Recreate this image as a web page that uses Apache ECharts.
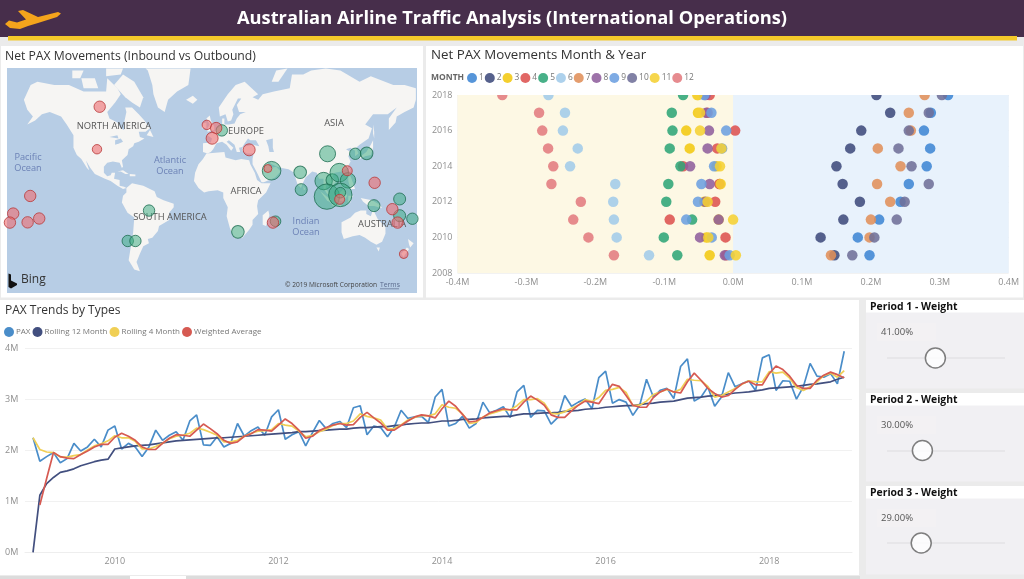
<!DOCTYPE html>
<html><head><meta charset="utf-8">
<style>html,body{margin:0;padding:0;background:#ebebeb}#c{width:1024px;height:579px}</style>
<script src="https://cdn.jsdelivr.net/npm/echarts@6/dist/echarts.min.js"></script>
</head><body><div id="c"></div>
<script>
// ---------- DATA ----------
const monthNames = ['1','2','3','4','5','6','7','8','9','10','11','12'];
const years = [2009,2010,2011,2012,2013,2014,2015,2016,2017,2018];
// net PAX (millions), months 1..12
const net2009 = [.198,.147,-.034,-.010,-.081,-.122,.142,-.012,-.005,.173,.004,-.173];
const net2010 = [.181,.127,-.039,-.011,-.1006,-.169,.198,-.048,-.031,.205,-.036,-.210];
const net2011 = [.212,.160,-.021,-.092,-.0595,-.173,.200,-.021,-.068,.2375,0,-.232];
const net2012 = [.243,.184,-.042,-.026,-.097,-.174,.228,-.040,-.051,.249,-.037,-.221];
const net2013 = [.255,.159,-.019,-.020,-.094,-.171,.209,-.034,-.046,.284,-.018,-.2637];
const net2014 = [.281,.150,-.024,-.0726,-.0764,-.2366,.243,-.0624,-.0276,.259,-.019,-.261];
const net2015 = [.286,.170,-.063,-.023,-.092,-.2255,.210,-.037,-.016,.240,-.017,-.2685];
const net2016 = [.277,.186,-.068,.003,-.088,-.247,.258,-.035,-.010,.255,-.048,-.277];
const net2017 = [.287,.228,-.051,-.037,-.089,-.244,.255,-.039,-.0315,.284,-.048,-.2816];
const net2018 = [.312,.208,-.051,-.034,-.0726,-.268,.278,-.040,-.042,.303,-.052,-.335];
const netByYear = [net2009,net2010,net2011,net2012,net2013,net2014,net2015,net2016,net2017,net2018];

// monthly series Jan 2009 .. Dec 2018 (millions)
const pax = [
2.25,1.79,1.88,1.96,1.76,1.84,2.14,1.99,2.07,2.22,2.07,2.40,
2.48,2.03,2.14,2.07,1.88,2.07,2.40,2.20,2.30,2.37,2.20,2.58,
2.70,2.11,2.10,2.27,2.07,2.14,2.53,2.28,2.39,2.46,2.30,2.66,
2.80,2.22,2.31,2.37,2.09,2.35,2.59,2.43,2.53,2.57,2.45,2.84,
2.88,2.31,2.48,2.45,2.27,2.46,2.79,2.63,2.66,2.67,2.55,3.05,
3.20,2.48,2.53,2.67,2.44,2.53,2.95,2.74,2.79,2.86,2.65,3.15,
3.28,2.65,2.79,2.78,2.52,2.65,3.08,2.87,2.95,3.01,2.82,3.43,
3.56,2.93,3.00,2.95,2.69,2.89,3.40,3.05,3.18,3.22,3.02,3.65,
3.80,2.97,3.05,3.25,2.87,3.05,3.53,3.25,3.31,3.37,3.18,3.82,
3.88,3.18,3.37,3.36,3.01,3.25,3.71,3.46,3.44,3.51,3.31,3.95];
const rolling12 = [
0,1.12,1.35,1.47,1.57,1.60,1.64,1.70,1.74,1.78,1.81,1.83,
2.03,2.05,2.07,2.09,2.10,2.11,2.13,2.15,2.17,2.19,2.20,2.21,
2.22,2.23,2.24,2.25,2.25,2.26,2.27,2.28,2.29,2.30,2.31,2.32,
2.33,2.34,2.35,2.37,2.37,2.38,2.39,2.40,2.41,2.42,2.42,2.44,
2.45,2.45,2.46,2.47,2.47,2.49,2.50,2.52,2.53,2.54,2.54,2.56,
2.58,2.58,2.59,2.61,2.61,2.62,2.64,2.65,2.66,2.67,2.67,2.70,
2.72,2.72,2.73,2.74,2.74,2.75,2.77,2.78,2.79,2.81,2.82,2.83,
2.85,2.86,2.87,2.88,2.88,2.90,2.92,2.93,2.95,2.96,2.97,3.00,
3.03,3.04,3.05,3.07,3.08,3.09,3.11,3.13,3.14,3.15,3.17,3.19,
3.22,3.23,3.24,3.25,3.26,3.28,3.30,3.31,3.33,3.35,3.40,3.44];
const rolling4 = [
2.25,2.02,1.97,1.96,1.87,1.87,1.90,1.92,2.01,2.09,2.13,2.19,
2.29,2.25,2.25,2.18,2.03,2.03,2.08,2.14,2.23,2.28,2.30,2.34,
2.44,2.41,2.36,2.30,2.17,2.17,2.20,2.28,2.34,2.38,2.39,2.41,
2.53,2.50,2.48,2.38,2.27,2.30,2.37,2.42,2.49,2.53,2.53,2.58,
2.72,2.67,2.64,2.60,2.42,2.43,2.50,2.60,2.65,2.69,2.68,2.72,
2.90,2.85,2.83,2.72,2.53,2.55,2.66,2.72,2.76,2.80,2.80,2.88,
3.00,3.00,3.02,2.93,2.73,2.72,2.76,2.83,2.89,3.00,2.96,3.04,
3.18,3.20,3.24,3.14,2.88,2.89,2.97,3.10,3.15,3.20,3.15,3.20,
3.40,3.38,3.37,3.26,3.05,3.08,3.15,3.22,3.30,3.37,3.35,3.35,
3.55,3.52,3.54,3.42,3.24,3.18,3.25,3.35,3.47,3.52,3.44,3.57];
const weighted = [
null,0.93,1.45,1.96,1.88,1.85,1.84,1.92,1.99,2.07,2.12,2.12,
2.26,2.34,2.28,2.20,2.07,2.02,2.02,2.14,2.24,2.31,2.30,2.28,
2.40,2.52,2.43,2.33,2.20,2.14,2.17,2.28,2.33,2.41,2.40,2.38,
2.50,2.62,2.53,2.40,2.24,2.28,2.39,2.45,2.50,2.53,2.50,2.51,
2.65,2.75,2.64,2.54,2.40,2.40,2.49,2.58,2.66,2.70,2.68,2.64,
2.82,2.97,2.87,2.71,2.56,2.58,2.65,2.74,2.78,2.82,2.80,2.80,
2.95,3.07,2.99,2.89,2.70,2.65,2.65,2.78,2.89,2.97,2.95,2.92,
3.12,3.30,3.26,3.08,2.89,2.85,2.85,3.04,3.15,3.21,3.15,3.13,
3.35,3.52,3.38,3.22,3.12,3.05,3.08,3.20,3.31,3.36,3.29,3.29,
3.51,3.66,3.59,3.46,3.28,3.22,3.22,3.38,3.48,3.54,3.49,3.43];
const trendYearLabels = [2010,2012,2014,2016,2018];

// map bubbles: [lon, lat, bubble size]
const inbound = [
[7.7,50.8,11.4],[51.9,22.7,18.6],[101.6,35.8,16],[126.2,35.8,11.4],[136.3,36.1,12.6],
[77.3,21.4,12.6],[78.2,6.5,12],[98.1,14,17.4],[105.8,14.9,12.6],[112,21.1,18.6],
[119.7,14.6,15.4],[101,.3,25.4],[112.9,1.8,23.4],[112.9,3.8,10.6],[142.8,-7.7,12],
[165.6,-1.8,12],[165.6,-16.4,12],[176.9,-19,11.4],[55.4,-21.1,10.6],[22,-29.6,12.6],
[-56.9,-12,11.4],[-75.8,-36.4,11.4],[-69,-36.4,11.4]];
const outbound = [
[-100.7,62.3,11.4],[-103.1,39,9.4],[-5.6,53.8,9.4],[2.7,52.1,11.4],[-.9,46.2,12],
[32,38.6,12],[48.6,24.5,8],[119.1,22.7,10],[143.4,12.5,11.4],[112.3,-2.1,10],
[53.1,-22.2,11.4],[159.1,-10.8,11.4],[163.8,-22.2,11.4],[169.2,-45.2,8.6],[-162.4,.9,11.4],
[-177.5,-14.6,11.4],[-180.4,-22.2,11.4],[-164.7,-22,11.4],[-154.4,-18.8,11.4]];

const weightNames = ['Period 1 - Weight','Period 2 - Weight','Period 3 - Weight'];
const weights = [41,30,29];

// simplified land outlines (lon, lat)
const landOutlines = {
 northAmerica:[[-168,65],[-162,70],[-156,71],[-141,70],[-128,70],[-115,68],[-108,68],[-95,68],[-94,72],[-85,69],[-82,67],[-87,64],[-94,60],[-92,57],[-85,55],[-82,52],[-79,51],[-79,55],[-77,60],[-78,62],[-72,62],[-66,59],[-61,56],[-56,52],[-60,50],[-66,50],[-65,47],[-61,46],[-66,44],[-70,43],[-71,41],[-75,39],[-76,35],[-81,31],[-80,26],[-81,25],[-83,29],[-89,30],[-94,29],[-97,26],[-97,21],[-94,18],[-91,19],[-90,21],[-87,21],[-88,16],[-83,15],[-83,10],[-79,9],[-77,8],[-80,7],[-85,10],[-91,14],[-96,16],[-105,20],[-109,25],[-113,31],[-110,23],[-112,25],[-117,32],[-121,35],[-124,40],[-124,48],[-130,54],[-135,58],[-145,60],[-152,59],[-158,56],[-165,54],[-160,58],[-165,61]],
 baffin:[[-80,73],[-70,71],[-62,66],[-65,62],[-72,64],[-78,66],[-88,70]],
 victoria:[[-117,72],[-105,72],[-102,69],[-115,69]],
 banks:[[-125,74],[-115,74],[-118,72],[-125,72]],
 ellesmere:[[-95,74.5],[-80,74.5],[-82,73],[-95,72.5]],
 greenland:[[-60,74.5],[-20,74.5],[-22,70],[-32,68],[-40,65],[-43,60],[-49,62],[-53,67],[-54,70],[-58,74]],
 newfoundland:[[-59,48],[-56,51],[-53,47]],
 cuba:[[-85,22],[-80,23],[-75,20],[-78,20],[-82,22]],
 hispaniola:[[-74,20],[-69,19.5],[-69,18],[-74,18]],
 iceland:[[-24,65],[-18,66.5],[-14,65],[-18,63.5]],
 britain:[[-5,50],[1,51],[1,53],[-2,56],[-3,58.5],[-6,57],[-3,54],[-5,52]],
 ireland:[[-10,52],[-6,52],[-6,55],[-9,54.5]],
 eurasia:[[-9,37],[-9,43],[-2,43.5],[-1,46],[-5,48],[1,50],[4,52],[8,54],[8,57],[10,57],[10,54],[14,54],[19,54.5],[21,57],[24,59],[29,60],[23,60],[21,63],[25,65.5],[22,65.5],[17,61],[18,59],[16,56],[13,55.5],[11,59],[6,58],[5,62],[13,67],[20,70],[28,71],[40,67],[35,66],[40,65],[44,67],[54,68],[68,69],[70,73],[80,73],[87,74],[100,74.5],[113,74],[130,71],[140,72.5],[160,70],[170,70],[180,69],[180,65],[178,62],[170,60],[163,58],[162,55],[156,51],[156,57],[163,62],[155,59],[142,59],[135,54],[141,52],[138,46],[130,42],[127,40],[129,36],[126,34],[126,38],[122,40],[118,39],[122,37],[120,34],[122,30],[119,25],[114,22],[108,21],[106,18],[109,13],[105,9],[101,13],[100,8],[104,1.5],[101,3],[98,8],[98,16],[94,16],[92,21],[88,22],[82,17],[80,13],[78,8],[75,11],[73,17],[72,21],[67,24],[61,25],[57,26],[52,28],[48,30],[51,25],[56,26],[60,22],[55,17],[45,13],[43,13],[39,21],[35,28],[35,32],[36,36],[30,36],[26,38],[26,40],[29,41],[35,42],[41,41],[38,45],[33,45],[31,46],[28,43],[26,40.5],[23,40],[24,37],[21,37],[19,42],[14,45],[12,44],[18,40],[16,38],[12,42],[8,44],[3,43],[0,39],[-2,37],[-5,36]],
 africa:[[-6,36],[10,37],[11,33],[20,31],[25,32],[32,31],[33,28],[37,21],[39,15],[43,12],[51,12],[47,4],[40,-3],[39,-8],[40,-15],[35,-20],[35,-24],[32,-28],[26,-34],[19,-34.5],[15,-27],[12,-17],[13,-9],[9,-1],[9,4],[4,6],[-4,5],[-8,4],[-13,8],[-17,14],[-16,21],[-13,28],[-9,32]],
 madagascar:[[44,-16],[49,-12],[50,-16],[47,-25],[44,-24]],
 southAmerica:[[-77,8],[-72,12],[-62,10],[-52,5],[-50,0],[-44,-3],[-35,-6],[-35,-9],[-39,-14],[-39,-20],[-48,-25],[-49,-29],[-54,-34],[-58,-35],[-57,-38],[-62,-40],[-65,-45],[-68,-50],[-65,-55],[-70,-54],[-75,-49],[-73,-40],[-71,-30],[-70,-18],[-76,-14],[-81,-5],[-80,1],[-77,4]],
 australia:[[114,-22],[122,-18],[126,-14],[131,-12],[136,-12],[136,-15],[140,-17],[142,-11],[146,-19],[153,-26],[153,-31],[150,-37],[145,-39],[140,-37],[135,-34],[130,-32],[124,-33],[116,-35],[114,-30]],
 tasmania:[[145,-41],[148,-41],[147,-43.5]],
 nzNorth:[[173,-35],[178,-38],[175,-41],[174,-39]],
 nzSouth:[[172,-41],[174,-42],[169,-47],[167,-45]],
 newGuinea:[[131,-1],[141,-3],[148,-7],[150,-10],[143,-8],[138,-8],[133,-4]],
 borneo:[[109,1],[116,7],[119,1],[116,-4],[110,-3]],
 sumatra:[[95,5],[104,-2],[106,-6],[101,-3]],
 java:[[105,-6],[114,-7],[114,-8.5],[106,-7.5]],
 sulawesi:[[120,1],[125,1],[122,-1],[122,-5],[120,-5]],
 philippines:[[120,18],[122,18],[124,13],[126,7],[122,7],[120,14]],
 taiwan:[[120,23],[122,25],[121,22]],
 japan:[[130,32],[135,34],[140,35],[142,40],[142,45],[140,42],[136,37],[131,34]],
 sakhalin:[[142,54],[143,50],[143,46],[142,49]],
 novayaZemlya:[[52,71],[56,74],[66,74.5],[58,71]],
 sriLanka:[[80,9.5],[82,7],[80.5,6]]
};
const lakes = {
 caspian:[[47,45],[53,46],[53,40],[54,37],[50,37],[49,41]],
 blackInner:[[30,43],[38,43.5],[35,42.5]],
 superior:[[-92,47],[-85,48],[-84,46],[-88,46.5]],
 michiganHuron:[[-87,45],[-82,46],[-80,44],[-83,43],[-87,42]]
};
const mapExtent = {west:-183,east:181,north:74.6,south:-64.6};

// ---------- COLOURS ----------
const monthColors=['#3f86d4','#3f4b7c','#f2c811','#dd5250','#2fa577','#a2cbe9','#e08f5a','#8f5e9d','#6c9fe0','#6f6f99','#f5d033','#e27b80'];
const ocean='#b7cde5', land='#f6f5f3', grey='#8f8f8f', inkFont='"Open Sans","Noto Sans",sans-serif';

// ---------- MAP ----------
const poly=(name,ring)=>({type:'Feature',properties:{name},geometry:{type:'Polygon',coordinates:[ring.concat([ring[0]])]}});
const feats=[poly('ocean',[[mapExtent.west,mapExtent.north],[mapExtent.east,mapExtent.north],[mapExtent.east,mapExtent.south],[mapExtent.west,mapExtent.south]])];
Object.keys(landOutlines).forEach(k=>feats.push(poly(k,landOutlines[k])));
Object.keys(lakes).forEach(k=>feats.push(poly(k,lakes[k])));
echarts.registerMap('bing',{type:'FeatureCollection',features:feats});
const mercator={
 project:p=>[p[0]*Math.PI/180,-Math.log(Math.tan(Math.PI/4+p[1]*Math.PI/360))],
 unproject:p=>[p[0]*180/Math.PI,(2*Math.atan(Math.exp(-p[1]))-Math.PI/2)*180/Math.PI]
};

// ---------- GRAPHICS ----------
const rect=(x,y,w,h,fill,z)=>({type:'rect',shape:{x,y,width:w,height:h},style:{fill},z:z==null?-10:z,silent:true});
const txt=(x,y,text,o)=>({type:'text',x,y,z:1,silent:true,style:Object.assign({text,fontFamily:inkFont,fontSize:9.4,fill:'#555',align:'center',verticalAlign:'middle'},o||{})});
const oceanTxt={fill:'#6c82b6',lineHeight:10.5,fontSize:9.2};
const gfx=[
 rect(0,0,1024,37,'#472e4b'),
 rect(8,36,1009,4.5,'#f4c92a'),
 rect(1,46,422,251.5,'#ffffff'),
 rect(426,46,597,251.5,'#ffffff'),
 rect(0,300,859,275,'#ffffff'),
 rect(0,576,860,3,'#dcdcdc'),rect(130,576,56,3,'#ffffff'),
 rect(457.5,84,560,11,'#ffffff',5),
 {type:'polygon',z:1,silent:true,shape:{points:[[5,24],[9,20.5],[17,22.5],[26,19.5],[18,11],[23,10],[38,17],[58,12],[61,13.5],[57,17],[38,23],[28,26],[20,29],[10,28]]},style:{fill:'#f4a41c'}},
 txt(512,19,'Australian Airline Traffic Analysis (International Operations)',{fontSize:18.3,fontWeight:700,fill:'#ffffff'}),
 // map text
 txt(114,126,'NORTH AMERICA'),txt(246,131,'EUROPE'),txt(334,123,'ASIA'),txt(246,191,'AFRICA'),txt(170,217,'SOUTH AMERICA'),txt(358,224,'AUSTRALIA',{align:'left'}),
 txt(28,163,'Pacific\nOcean',oceanTxt),txt(170,166,'Atlantic\nOcean',oceanTxt),txt(306,227,'Indian\nOcean',oceanTxt),
 {type:'polygon',z:1,silent:true,shape:{points:[[8.5,273.5],[11,274.5],[11,280.5],[17,283.5],[17,285],[11,288.5],[8.5,287]]},style:{fill:'#111'}},
 txt(21,280,'Bing',{align:'left',fontSize:12,fill:'#333'}),
 txt(285,285,'© 2019 Microsoft Corporation',{align:'left',fontSize:6.6,fill:'#444'}),
 txt(380,285,'Terms',{align:'left',fontSize:6.8,fill:'#5a6a8c'}),
 rect(380,288.5,19,.7,'#5a6a8c',1),
 // legend captions
 txt(431,78,'MONTH',{align:'left',fontWeight:700,fontSize:8.5,fill:'#666'})
];
// slicer panels
const panelTops=[300,393,486], trackY=[358,451,543], valueY=[332,425,518];
weightNames.forEach((n,i)=>{
 gfx.push(rect(866,panelTops[i],158,88.5,'#f1f0f3'));
 gfx.push(rect(866,panelTops[i],158,12.5,'#ffffff'));
 gfx.push(txt(870,panelTops[i]+7,n,{align:'left',fontWeight:700,fontSize:10.4,fill:'#111'}));
 gfx.push(rect(877,valueY[i]-9,59,18,'#f3f1f3',-9));
 gfx.push(txt(881,valueY[i],weights[i].toFixed(2)+'%',{align:'left',fontSize:9.5,fill:'#555'}));
 gfx.push(rect(887,trackY[i]-1,118,2,'#e7e6e9',-9));
});

// ---------- CHART ----------
const axisTxt={color:grey,fontSize:9,fontFamily:inkFont};
const ttl=(text,left,top,fontSize)=>({text,left,top,padding:0,textStyle:{fontFamily:inkFont,fontSize,fontWeight:400,color:'#333'}});
const monthSeries=monthNames.map((n,m)=>({
 name:n,type:'scatter',xAxisIndex:0,yAxisIndex:0,symbolSize:10.5,clip:true,
 itemStyle:{color:monthColors[m],opacity:.88},
 data:years.map((y,k)=>[netByYear[k][m],y]),
 markArea:m===0?{silent:true,itemStyle:{opacity:1},data:[
  [{xAxis:-.4,itemStyle:{color:'#fdf8e4'}},{xAxis:0}],
  [{xAxis:0,itemStyle:{color:'#e8f2fc'}},{xAxis:.4}]]}:undefined
}));
const trend=(name,arr,color,lw)=>({name,type:'line',xAxisIndex:1,yAxisIndex:1,showSymbol:false,symbol:'none',connectNulls:false,
 lineStyle:{color,width:lw},itemStyle:{color},data:arr.map((v,i)=>[2009+i/12,v])});
const legendBase={icon:'circle',itemWidth:10,itemHeight:10,padding:0,selectedMode:false};

const option={
 animation:false,backgroundColor:'transparent',graphic:gfx,
 title:[ttl('Net PAX Movements (Inbound vs Outbound)',5,51,12.2),ttl('Net PAX Movements Month & Year',431,48.5,13.3),ttl('PAX Trends by Types',5,305,12)],
 geo:{map:'bing',projection:mercator,left:7,top:68,width:410,height:225,roam:false,silent:true,
  label:{show:false},itemStyle:{areaColor:land,borderWidth:0},
  regions:[{name:'ocean',itemStyle:{areaColor:ocean}}].concat(Object.keys(lakes).map(name=>({name,itemStyle:{areaColor:ocean}})))},
 grid:[{left:457.5,top:95,width:551.2,height:178},{left:25,top:348.7,width:827,height:203.6},{left:887,top:358,width:118,height:185}],
 xAxis:[
  {gridIndex:0,type:'value',min:-.4,max:.4,interval:.1,axisLine:{show:false},axisTick:{show:false},axisLabel:Object.assign({},axisTxt,{margin:5,formatter:v=>v.toFixed(1).replace('-0.0','0.0')+'M',hideOverlap:false}),splitLine:{lineStyle:{color:'rgba(0,0,0,.045)'}}},
  {gridIndex:1,type:'value',min:2008.902,max:2019.012,axisLine:{lineStyle:{color:'#eee'}},axisTick:{show:false},splitLine:{show:false},
   axisLabel:Object.assign({},axisTxt,{margin:5,customValues:trendYearLabels,formatter:v=>String(v)})},
  {gridIndex:2,type:'value',min:0,max:100,show:false}
 ],
 yAxis:[
  {gridIndex:0,type:'value',min:2008,max:2018,interval:2,axisLine:{show:false},axisTick:{show:false},axisLabel:Object.assign({},axisTxt,{margin:5,formatter:v=>String(v)}),splitLine:{lineStyle:{color:'rgba(0,0,0,.05)'}}},
  {gridIndex:1,type:'value',min:0,max:4,interval:1,axisLine:{show:false},axisTick:{show:false},axisLabel:Object.assign({},axisTxt,{align:'left',margin:20,formatter:v=>v+'M'}),splitLine:{lineStyle:{color:'#f1f1f1'}}},
  {gridIndex:2,type:'value',min:0,max:2,inverse:true,show:false}
 ],
 legend:[
  Object.assign({data:monthNames,left:467,top:73,itemGap:1,textStyle:{color:'#777',fontSize:8.4,fontFamily:inkFont,padding:[0,0,0,-3]}},legendBase),
  Object.assign({data:['PAX','Rolling 12 Month','Rolling 4 Month','Weighted Average'],left:4,top:327,itemGap:2,textStyle:{color:'#777',fontSize:8,fontFamily:inkFont,padding:[0,0,0,-3]}},legendBase)
 ],
 series:[
  ...monthSeries,
  trend('PAX',pax,'#4a8dc9',1.7),
  trend('Rolling 12 Month',rolling12,'#424f7f',1.7),
  trend('Rolling 4 Month',rolling4,'#f0cf55',1.7),
  trend('Weighted Average',weighted,'#d65a52',1.7),
  {name:'Inbound',type:'scatter',coordinateSystem:'geo',geoIndex:0,z:3,symbolSize:v=>v[2],
   itemStyle:{color:'rgba(58,170,128,.65)',borderColor:'#1f6e52',borderWidth:1},data:inbound},
  {name:'Outbound',type:'scatter',coordinateSystem:'geo',geoIndex:0,z:4,symbolSize:v=>v[2],
   itemStyle:{color:'rgba(238,108,112,.75)',borderColor:'#b8393a',borderWidth:1},data:outbound},
  {name:'Weights',type:'scatter',xAxisIndex:2,yAxisIndex:2,symbolSize:20,clip:false,
   itemStyle:{color:'#ffffff',borderColor:'#606060',borderWidth:1.5},data:weights.map((w,i)=>[w,i])}
 ]
};
echarts.init(document.getElementById('c'),null,{renderer:'canvas'}).setOption(option);
</script></body></html>
